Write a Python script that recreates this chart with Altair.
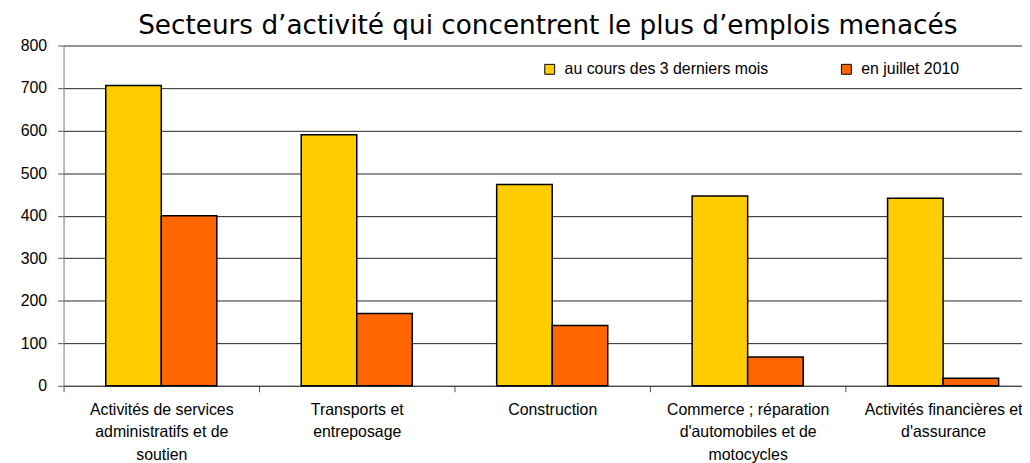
import altair as alt
import pandas as pd

title_text = "Secteurs d\u2019activité qui concentrent le plus d\u2019emplois menacés"
categories = [
    "Activités de services\nadministratifs et de\nsoutien",
    "Transports et\nentreposage",
    "Construction",
    "Commerce ; réparation\nd'automobiles et de\nmotocycles",
    "Activités financières et\nd'assurance",
]
series_names = ["au cours des 3 derniers mois", "en juillet 2010"]
recent = [706, 590, 473, 446, 441]
july = [400, 170, 142, 68, 18]
colors = ["#FFCC00", "#FF6600"]

rows = []
for c, a, b in zip(categories, recent, july):
    rows.append({"cat": c, "serie": series_names[0], "val": a})
    rows.append({"cat": c, "serie": series_names[1], "val": b})
df = pd.DataFrame(rows)

bars = alt.Chart(df).mark_bar(stroke="black", strokeWidth=1.5).encode(
    x=alt.X("cat:N", sort=categories, title=None,
            scale=alt.Scale(paddingInner=0, paddingOuter=0, range=[0, 985]),
            axis=alt.Axis(labelAngle=0, tickBand="extent", labelExpr="split(datum.label, '\\n')",
                          labelFont="Liberation Sans", labelFontSize=16, labelColor="black",
                          labelLineHeight=22.5, labelPadding=10, tickSize=6, tickColor="#555",
                          domainColor="#444", labelLimit=300, grid=False)),
    xOffset=alt.XOffset("serie:N", sort=series_names,
                        scale=alt.Scale(paddingOuter=0.76, paddingInner=0)),
    y=alt.Y("val:Q", title=None,
            scale=alt.Scale(domain=[0, 800]),
            axis=alt.Axis(values=list(range(0, 801, 100)), labelFont="Liberation Sans",
                          labelFontSize=16, labelColor="black", tickSize=6, labelPadding=11,
                          tickColor="#555", domainColor="#777", gridColor="#222",
                          gridWidth=1, grid=True)),
    color=alt.Color("serie:N", sort=series_names,
                    scale=alt.Scale(domain=series_names, range=colors),
                    legend=alt.Legend(title=None, orient="none", direction="horizontal",
                                      legendX=482, legendY=16, symbolType="square",
                                      symbolSize=100, symbolStrokeColor="black",
                                      symbolStrokeWidth=1, labelFont="Liberation Sans",
                                      labelFontSize=16, labelColor="black", labelOffset=7,
                                      columnPadding=70, padding=0, labelLimit=400)),
)

title = alt.Chart(pd.DataFrame({"t": [title_text]})).mark_text(
    font="DejaVu Sans", fontSize=26.5, color="black", align="center", baseline="alphabetic"
).encode(text="t:N", x=alt.value(488), y=alt.value(-12))

chart = alt.layer(bars, title).properties(
    width=966, height=343,
    autosize=alt.AutoSizeParams(type="none"),
    padding={"left": 56, "top": 36, "right": 0, "bottom": 76},
).configure_view(stroke=None)

chart.save("out.html", embed_options={"renderer": "svg", "actions": False})
